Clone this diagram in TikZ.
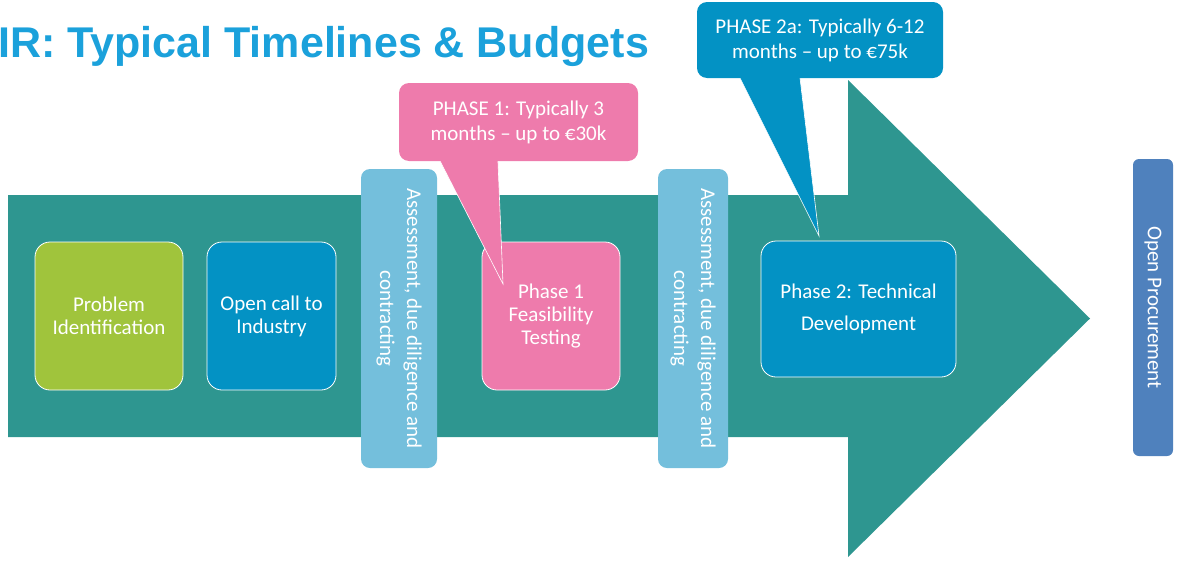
\documentclass[tikz,border=0pt]{standalone}
\usepackage{fontspec}
\setmainfont{Carlito}
\newfontfamily\titlefont{Liberation Sans}
\definecolor{teal1}{HTML}{2E9690}
\definecolor{green1}{HTML}{A0C43C}
\definecolor{blue1}{HTML}{0392C4}
\definecolor{lblue}{HTML}{74BFDC}
\definecolor{pink1}{HTML}{EE7BAC}
\definecolor{proc}{HTML}{4F81BD}
\definecolor{titleblue}{HTML}{1BA1DB}
\begin{document}
\begin{tikzpicture}[x=1pt,y=-1pt,
  box/.style={rectangle, rounded corners=15pt, draw=white, line width=0.8pt, text=white, align=center, inner sep=0pt, font=\fontsize{21}{23}\selectfont},
  bar/.style={rectangle, rounded corners=9pt, fill=lblue, text=white, align=center, inner sep=0pt, rotate=-90, font=\fontsize{21}{27}\selectfont},
  callout/.style={rectangle, rounded corners=10pt, text=white, align=center, inner sep=0pt, font=\fontsize{21}{25}\selectfont},
  pointer/.style={draw=white, line width=0.6pt, line join=miter}
]
\useasboundingbox (0,0) rectangle (1180,562);
% title
\node[anchor=base west, inner sep=0pt, text=titleblue, font=\titlefont\bfseries\fontsize{43}{48}\selectfont] (title) at (-2,57) {IR: Typical Timelines \& Budgets};
% big arrow
\fill[teal1] (8,195) -- (848,195) -- (848,80) -- (1090,318.5) -- (848,557) -- (848,437) -- (8,437) -- cycle;
% bars
\node[bar, minimum width=299, minimum height=76] (bar1) at (399,318.5) {Assessment, due diligence and\\contracting};
\node[bar, minimum width=299, minimum height=70] (bar2) at (693,318.5) {Assessment, due diligence and\\contracting};
\node[bar, rounded corners=6pt, fill=proc, minimum width=297, minimum height=40] (proc) at (1153,307.5) {Open Procurement};
% boxes
\node[box, fill=green1, minimum width=148, minimum height=148] (prob) at (109,316) {Problem\\Identification};
\node[box, fill=blue1, minimum width=129, minimum height=148] (call) at (271.5,316) {Open call to\\Industry};
\node[box, fill=pink1, minimum width=138, minimum height=148] (ph1) at (551,316) {Phase 1\\Feasibility\\Testing};
\node[box, fill=blue1, minimum width=195, minimum height=136, font=\fontsize{21}{32}\selectfont] (ph2) at (858.5,309) {Phase 2: Technical\\Development};
% callout pointers
\coordinate (tip1) at (503,284);
\coordinate (tip2) at (819,236);
\filldraw[pointer, fill=pink1] (434.4,150) -- (tip1) -- (497.5,150) -- cycle;
\filldraw[pointer, fill=blue1] (735,68) -- (tip2) -- (798.8,68) -- cycle;
% callouts
\node[callout, fill=pink1, minimum width=239, minimum height=78] (c1) at (518.5,122) {PHASE 1: Typically 3\\months -- up to €30k};
\node[callout, fill=blue1, minimum width=246, minimum height=76] (c2) at (820,40) {PHASE 2a: Typically 6-12\\months -- up to €75k};
\end{tikzpicture}
\end{document}
